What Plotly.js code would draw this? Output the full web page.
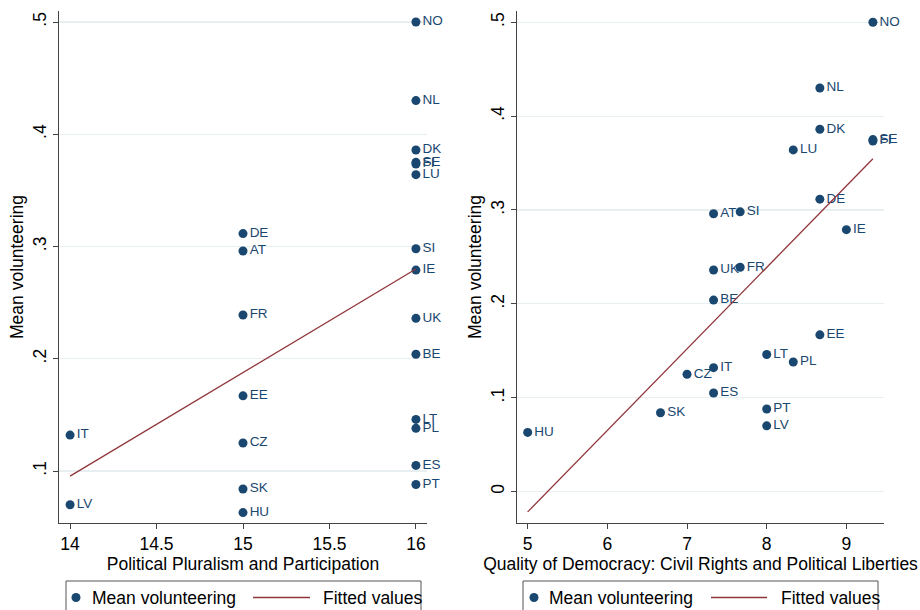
<!DOCTYPE html>
<html>
<head>
<meta charset="utf-8">
<script src="https://cdn.plot.ly/plotly-3.0.1.min.js"></script>
<style>html,body{margin:0;padding:0;background:#fff;}#chart{width:920px;height:610px;}</style>
</head>
<body>
<div id="chart"></div>
<script>
const countries = ['NO','NL','DK','SE','FI','LU','DE','AT','SI','IE','FR','UK','BE','EE','LT','PL','IT','CZ','ES','PT','SK','LV','HU'];
const volunteering = [0.500,0.430,0.386,0.375,0.3735,0.364,0.3115,0.296,0.298,0.279,0.239,0.236,0.204,0.167,0.146,0.138,0.132,0.125,0.105,0.088,0.084,0.070,0.063];
const pluralism = [16,16,16,16,16,16,15,15,16,16,15,16,16,15,16,16,14,15,16,16,15,14,15];
const civilRights = [9.333,8.667,8.667,9.333,9.333,8.333,8.667,7.333,7.667,9.0,7.667,7.333,7.333,8.667,8.0,8.333,7.333,7.0,7.333,8.0,6.667,8.0,5.0];
const fitPluralismX = [14, 16];
const fitPluralismY = [0.0955, 0.280];
const fitCivilX = [5, 9.333];
const fitCivilY = [-0.0217, 0.3546];
const leftYTicks = [0.1, 0.2, 0.3, 0.4, 0.5];
const leftYText = ['.1', '.2', '.3', '.4', '.5'];
const rightYTicks = [0, 0.1, 0.2, 0.3, 0.4, 0.5];
const rightYText = ['0', '.1', '.2', '.3', '.4', '.5'];
const leftXTicks = [14, 14.5, 15, 15.5, 16];
const rightXTicks = [5, 6, 7, 8, 9];
const legendNames = ['Mean volunteering', 'Fitted values'];

const navy = '#1a476f';
const maroon = '#90353b';
const FONT = 'Liberation Sans, Arial, Helvetica, sans-serif';
const W = 920, H = 610;

function pts(x, xa, ya) {
  return {
    x: x, y: volunteering, text: countries, mode: 'markers+text', type: 'scatter',
    xaxis: xa, yaxis: ya, name: legendNames[0], showlegend: false,
    marker: {color: navy, size: 9}, textposition: 'middle right',
    textfont: {family: FONT, size: 13.5, color: navy}, cliponaxis: false, hoverinfo: 'none'
  };
}
function fit(x, y, xa, ya) {
  return {
    x: x, y: y, mode: 'lines', type: 'scatter', xaxis: xa, yaxis: ya, showlegend: false,
    name: legendNames[1], line: {color: maroon, width: 1.3}, hoverinfo: 'none'
  };
}
const data = [
  pts(pluralism, 'x', 'y'),
  fit(fitPluralismX, fitPluralismY, 'x', 'y'),
  pts(civilRights, 'x2', 'y2'),
  fit(fitCivilX, fitCivilY, 'x2', 'y2')
];

const TF = 17.5;
const axCommon = {
  showline: true, linecolor: '#444', linewidth: 1, ticks: 'outside', ticklen: 5, tickcolor: '#444',
  tickfont: {family: FONT, size: TF, color: '#000'}, zeroline: false, showgrid: false, fixedrange: true, automargin: false
};
const yCommon = Object.assign({}, axCommon, {showgrid: true, gridcolor: '#e8eff0', gridwidth: 1.2, tickangle: -90, tickmode: 'array'});

// legend drawn with paper-referenced shapes & annotations (pixel positions converted)
const px = v => v / W, py = v => 1 - v / H;
function legendParts(boxL, boxR, markX, text1X, lineL, lineR, text2X) {
  const cy = 597.5;
  const shapes = [
    {type: 'rect', xref: 'paper', yref: 'paper', x0: px(boxL), x1: px(boxR), y0: py(625), y1: py(581), line: {color: '#555', width: 1}, fillcolor: '#fff', layer: 'above'},
    {type: 'circle', xref: 'paper', yref: 'paper', x0: px(markX - 4.5), x1: px(markX + 4.5), y0: py(cy + 4.5), y1: py(cy - 4.5), line: {width: 0}, fillcolor: navy, layer: 'above'},
    {type: 'line', xref: 'paper', yref: 'paper', x0: px(lineL), x1: px(lineR), y0: py(cy), y1: py(cy), line: {color: maroon, width: 1.3}, layer: 'above'}
  ];
  const anns = [
    {xref: 'paper', yref: 'paper', x: px(text1X), y: py(cy), xanchor: 'left', yanchor: 'middle', text: legendNames[0], showarrow: false, font: {family: FONT, size: 17.5, color: '#000'}},
    {xref: 'paper', yref: 'paper', x: px(text2X), y: py(cy), xanchor: 'left', yanchor: 'middle', text: legendNames[1], showarrow: false, font: {family: FONT, size: 17.5, color: '#000'}}
  ];
  return {shapes, anns};
}
const L1 = legendParts(66, 421, 76, 90, 253, 310, 321);
const L2 = legendParts(523, 878, 534, 547, 711, 767, 779);

const layout = {
  width: W, height: H, margin: {l: 0, r: 0, t: 0, b: 0, autoexpand: false},
  paper_bgcolor: '#fff', plot_bgcolor: '#fff', showlegend: false,
  xaxis: Object.assign({}, axCommon, {domain: [59/W, 427/W], range: [13.936, 16.064], tickmode: 'array', tickvals: leftXTicks, ticktext: ['14','14.5','15','15.5','16'], anchor: 'y',
    title: {text: 'Political Pluralism and Participation', font: {family: FONT, size: TF, color: '#000'}, standoff: 0}}),
  yaxis: Object.assign({}, yCommon, {domain: [1 - 523/H, 1 - 11/H], range: [0.0537, 0.5098], tickvals: leftYTicks, ticktext: leftYText, anchor: 'x',
    title: {text: 'Mean volunteering', font: {family: FONT, size: TF, color: '#000'}, standoff: 1}}),
  xaxis2: Object.assign({}, axCommon, {domain: [517/W, 884/W], range: [4.866, 9.472], tickmode: 'array', tickvals: rightXTicks, anchor: 'y2',
    title: {text: 'Quality of Democracy: Civil Rights and Political Liberties', font: {family: FONT, size: TF, color: '#000'}, standoff: 0}}),
  yaxis2: Object.assign({}, yCommon, {domain: [1 - 523/H, 1 - 11/H], range: [-0.0335, 0.512], tickvals: rightYTicks, ticktext: rightYText, anchor: 'x2',
    title: {text: 'Mean volunteering', font: {family: FONT, size: TF, color: '#000'}, standoff: 1}}),
  shapes: L1.shapes.concat(L2.shapes),
  annotations: L1.anns.concat(L2.anns)
};

Plotly.newPlot('chart', data, layout, {displayModeBar: false, staticPlot: true});
</script>
</body>
</html>
